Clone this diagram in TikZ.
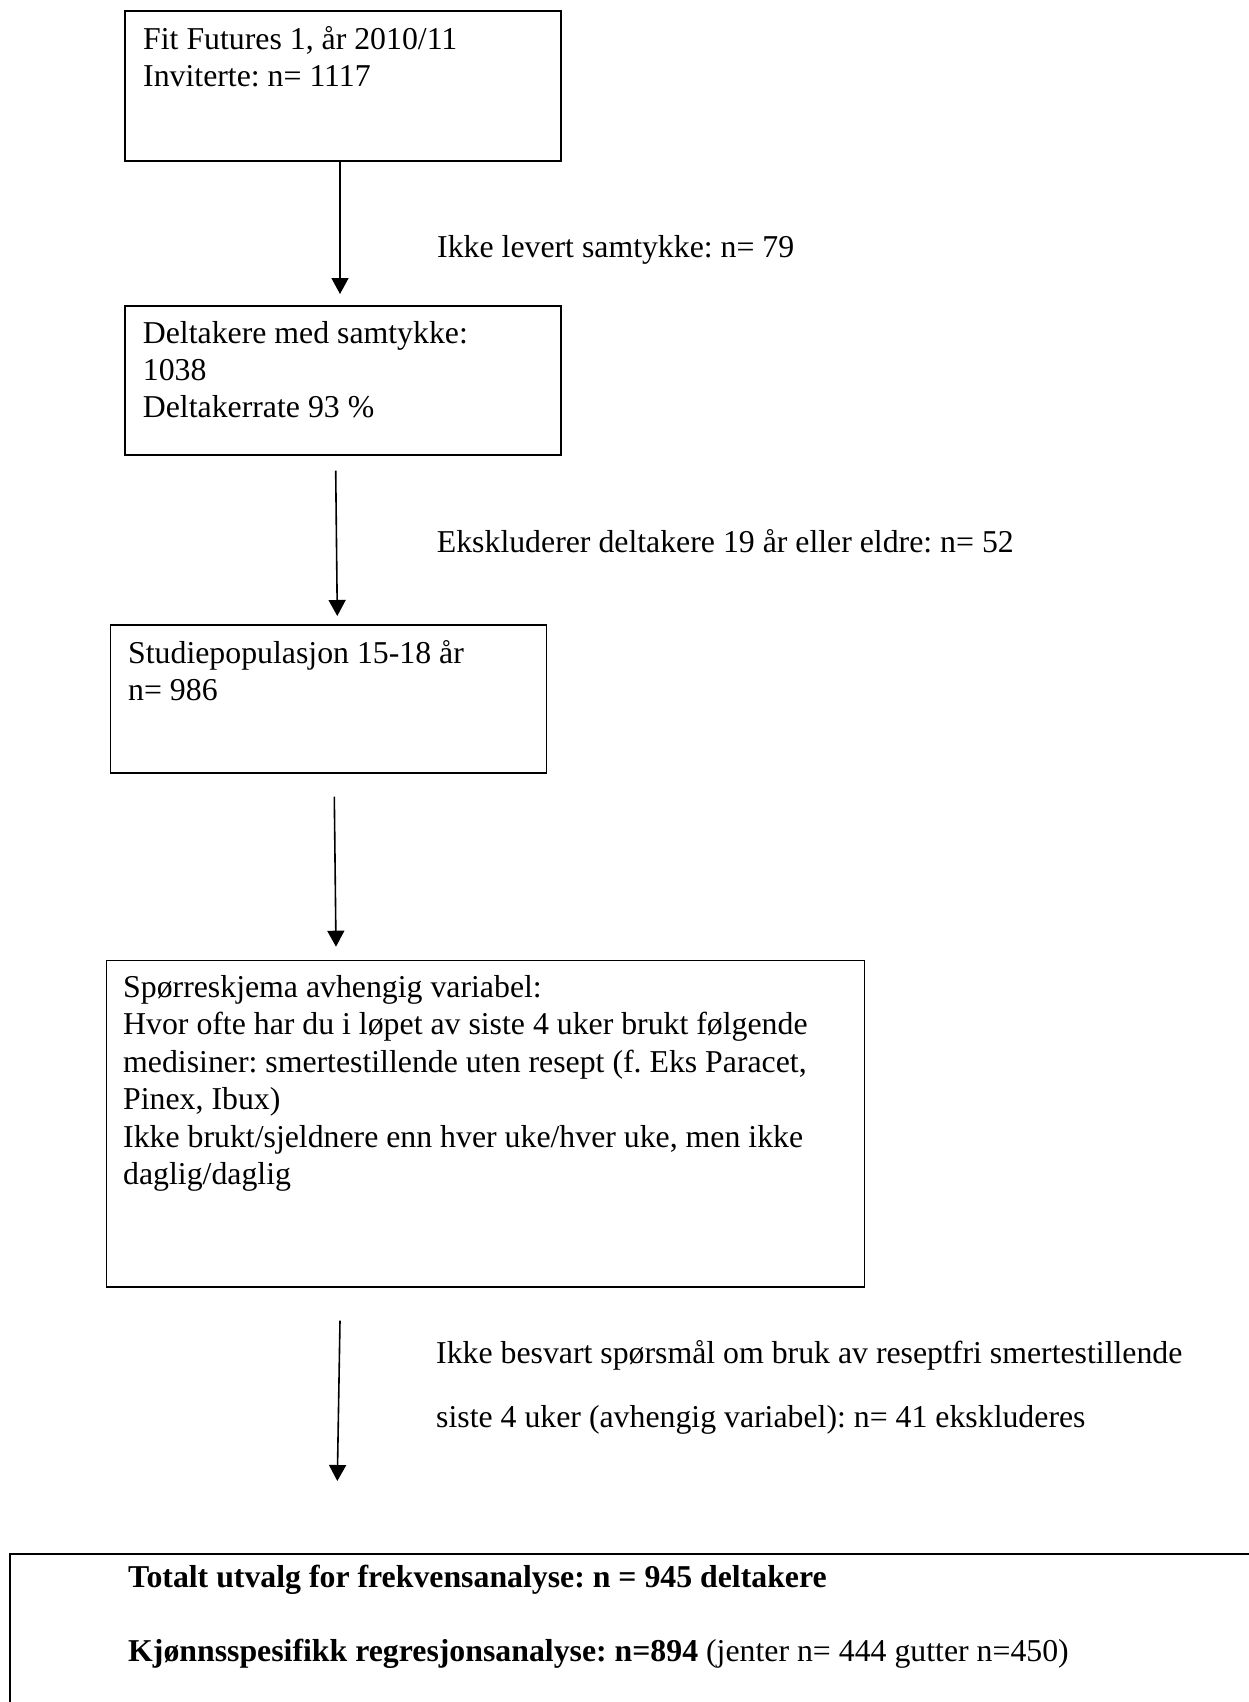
\documentclass[tikz,border=0pt]{standalone}
\usepackage{fontspec}
\setmainfont{Liberation Serif}
\usetikzlibrary{arrows.meta}
\frenchspacing
\begin{document}
\begin{tikzpicture}[x=1pt,y=-1pt,
  box/.style={draw,line width=1.3pt,rectangle,inner sep=0pt,outer sep=0pt,anchor=north west},
  txt/.style={anchor=base west,inner sep=0pt,align=left,font=\fontsize{31.8}{36.9}\selectfont\frenchspacing},
  arr/.style={line width=1.6pt,-{Triangle[width=17pt,length=16pt]}}]
\clip (0,0) rectangle (1249,1702);
\fill[white] (0,0) rectangle (1249,1702);
% boxes
\node[box,minimum width=436pt,minimum height=150pt] (b1) at (125,11) {};
\node[box,minimum width=436pt,minimum height=149pt] (b2) at (125,306) {};
\node[box,minimum width=436pt,minimum height=148pt] (b3) at (110.7,625) {};
\node[box,minimum width=758pt,minimum height=326.5pt] (b4) at (106.5,960.5) {};
\node[box,line width=2.8pt,minimum width=1300pt,minimum height=300pt] (b5) at (10,1554) {};
% box texts (anchored at the baseline of their last line)
\node[txt] (t1) at (143,86) {Fit Futures 1, år 2010/11\\Inviterte: n= 1117};
\node[txt] (t2) at (142.7,417) {Deltakere med samtykke:\\1038\\Deltakerrate 93 \%};
\node[txt] (t3) at (128,700) {Studiepopulasjon 15-18 år\\n= 986};
\node[txt,font=\fontsize{31.8}{37.5}\selectfont\frenchspacing] (t4) at (123,1184.5) {Spørreskjema avhengig variabel:\\Hvor ofte har du i løpet av siste 4 uker brukt følgende\\medisiner: smertestillende uten resept (f. Eks Paracet,\\Pinex, Ibux)\\Ikke brukt/sjeldnere enn hver uke/hver uke, men ikke\\daglig/daglig};
\node[txt] (t5a) at (128,1587) {\bfseries Totalt utvalg for frekvensanalyse: n = 945 deltakere};
\node[txt] (t5b) at (128,1661) {\textbf{Kjønnsspesifikk regresjonsanalyse: n=894} (jenter n= 444 gutter n=450)};
% side texts
\node[txt] (s1) at (437,257) {Ikke levert samtykke: n= 79};
\node[txt] (s2) at (436.7,552) {Ekskluderer deltakere 19 år eller eldre: n= 52};
\node[txt] (s3a) at (436,1363) {Ikke besvart spørsmål om bruk av reseptfri smertestillende};
\node[txt] (s3b) at (436,1427) {siste 4 uker (avhengig variabel): n= 41 ekskluderes};
% arrows
\coordinate (a1s) at (340,161);
\coordinate (a1e) at (340,294);
\coordinate (a2s) at (335.7,470.7);
\coordinate (a2e) at (337.3,616);
\coordinate (a3s) at (334.3,796.7);
\coordinate (a3e) at (336,946.7);
\coordinate (a4s) at (340,1320.7);
\coordinate (a4e) at (337.3,1481);
\draw[arr] (a1s) -- (a1e);
\draw[arr] (a2s) -- (a2e);
\draw[arr] (a3s) -- (a3e);
\draw[arr] (a4s) -- (a4e);
\end{tikzpicture}
\end{document}
